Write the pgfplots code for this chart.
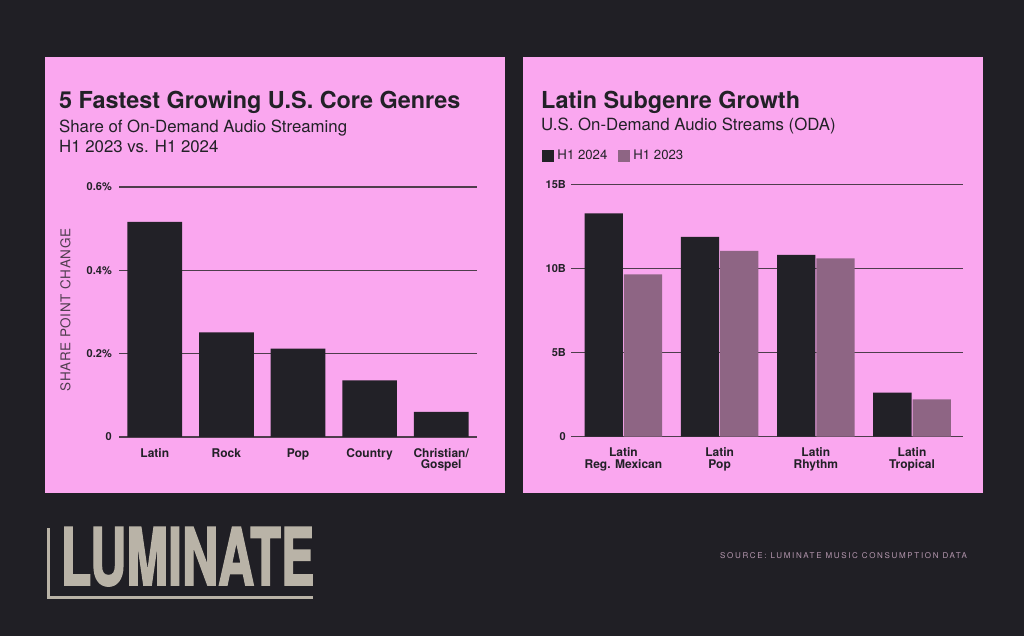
\documentclass[border=0pt]{standalone}
\usepackage{pgfplots}
\pgfplotsset{compat=1.18}
\usepackage{fontspec}
\setmainfont{TeX Gyre Heros}
\definecolor{bg}{HTML}{201F25}
\definecolor{pinkp}{HTML}{FAA7EF}
\definecolor{barblack}{HTML}{222127}
\definecolor{barpurple}{HTML}{8E6584}
\definecolor{gridc}{HTML}{4E3D4C}
\definecolor{logoc}{HTML}{B9B3A7}
\definecolor{srcc}{HTML}{B597AF}
\definecolor{ylab}{HTML}{4F3D4E}
\pgfplotsset{sqlegend/.style={legend image code/.code={\fill[##1] (0pt,-6pt) rectangle (12pt,6pt);}}}
\newcommand{\tl}{\rule{0pt}{9pt}}
\begin{document}
\begin{tikzpicture}[x=1pt,y=1pt]
\fill[bg] (0,0) rectangle (1024,636);
\useasboundingbox (0,0) rectangle (1024,636);
\fill[pinkp] (45,143) rectangle (505,579);
\fill[pinkp] (523,143) rectangle (983,579);
% titles
\node[anchor=base west, inner sep=0pt, text=barblack] at (59,527) {\fontsize{23.4}{28}\selectfont\bfseries 5 Fastest Growing U.S. Core Genres};
\node[anchor=base west, inner sep=0pt, text=barblack] at (59,503.5) {\fontsize{16.8}{20}\selectfont Share of On-Demand Audio Streaming};
\node[anchor=base west, inner sep=0pt, text=barblack] at (59,483.5) {\fontsize{16.8}{20}\selectfont H1 2023 vs. H1 2024};
\node[anchor=base west, inner sep=0pt, text=barblack] at (541,527) {\fontsize{23.4}{28}\selectfont\bfseries Latin Subgenre Growth};
\node[anchor=base west, inner sep=0pt, text=barblack] at (541,505) {\fontsize{16.8}{20}\selectfont U.S. On-Demand Audio Streams (ODA)};
% y label
\node[rotate=90, anchor=center, inner sep=0pt, text=ylab] at (65.5,326) {\fontsize{13.5}{16}\selectfont\addfontfeature{LetterSpace=5}SHARE POINT CHANGE};
% left axis
\begin{axis}[at={(119pt,199pt)}, anchor=south west, scale only axis,
  width=358pt, height=250pt, xmin=-0.5, xmax=4.5, ymin=0, ymax=0.6,
  axis line style={draw=none}, major tick length=0pt,
  ytick={0,0.2,0.4,0.6}, yticklabels={0,0.2\%,0.4\%,0.6\%},
  ymajorgrids, grid style={gridc, line width=1.2pt},
  xtick={0,1,2,3,4}, xticklabels={\tl Latin,\tl Rock,\tl Pop,\tl Country,{\tl Christian/\\Gospel}},
  xticklabel style={align=center, anchor=north, inner sep=0pt, yshift=-11pt, font=\fontsize{12}{11.5}\selectfont\bfseries, text=barblack},
  yticklabel style={anchor=east, inner sep=0pt, xshift=-7pt, font=\fontsize{11}{11}\selectfont\bfseries, text=barblack},
  ybar, bar width=54.7pt, clip=false]
\addplot[fill=barblack, draw=none] coordinates {(0,0.516) (1,0.251) (2,0.212) (3,0.136) (4,0.06)};
\end{axis}
% right axis
\begin{axis}[at={(571pt,199.3pt)}, anchor=south west, scale only axis,
  width=392pt, height=252.4pt, xmin=-0.545, xmax=3.53, ymin=0, ymax=15,
  axis line style={draw=none}, major tick length=0pt,
  ytick={0,5,10,15}, yticklabels={0,5B,10B,15B},
  ymajorgrids, grid style={gridc, line width=1.2pt},
  xtick={0,1,2,3}, xticklabels={{\tl Latin\\Reg. Mexican},{\tl Latin\\Pop},{\tl Latin\\Rhythm},{\tl Latin\\Tropical}},
  xticklabel style={align=center, anchor=north, inner sep=0pt, yshift=-11pt, font=\fontsize{12}{11.5}\selectfont\bfseries, text=barblack},
  yticklabel style={anchor=east, inner sep=0pt, xshift=-5pt, font=\fontsize{11}{11}\selectfont\bfseries, text=barblack},
  ybar=1pt, bar width=38.3pt, clip=false,
  legend columns=2,
  legend style={at={(-0.074,1.144)}, anchor=north west, draw=none, fill=none, inner sep=0pt, outer sep=0pt,
    font=\fontsize{13.2}{13}\selectfont, text=barblack,
    nodes={inner xsep=3.5pt},
    /tikz/every even column/.append style={column sep=7pt}}]
\addplot[fill=barblack, draw=none, sqlegend] coordinates {(0,13.27) (1,11.87) (2,10.8) (3,2.62)};
\addplot[fill=barpurple, draw=none, sqlegend] coordinates {(0,9.64) (1,11.05) (2,10.6) (3,2.22)};
\legend{H1 2024, H1 2023}
\end{axis}
% footer
\node[anchor=base west, inner sep=0pt] at (60.5,51) {\color{logoc}\scalebox{0.635}[1]{\fontsize{79}{79}\selectfont\bfseries\addfontfeature{FakeBold=2.5}LUMINATE}};
\fill[logoc] (47,37) rectangle (313,39.5);
\fill[logoc] (47,37) rectangle (49.5,108);
\node[anchor=base west, inner sep=0pt] at (720,77) {\fontsize{8}{8}\selectfont\addfontfeature{LetterSpace=21}\color{srcc}SOURCE: LUMINATE MUSIC CONSUMPTION DATA};
\end{tikzpicture}
\end{document}
